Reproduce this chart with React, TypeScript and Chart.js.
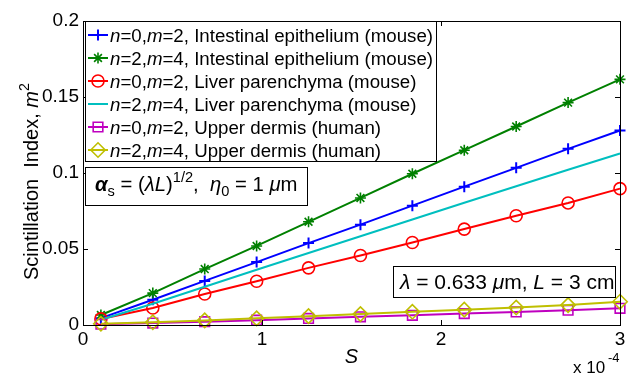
import React, { useEffect, useRef } from 'react';
import { Chart, registerables } from 'chart.js';
import { drawPoint } from 'chart.js/helpers';

Chart.register(...registerables);

// Propagation parameter S (in units of 1e-4)
const sValues = [0.1, 0.39, 0.68, 0.97, 1.26, 1.55, 1.84, 2.13, 2.42, 2.71, 3.0];

// Scintillation index m^2 for each tissue / (n, m) combination
const intestinalN0M2 = [0.0045, 0.0166, 0.029, 0.0414, 0.0539, 0.066, 0.0785, 0.091, 0.1034, 0.1159, 0.128];
const intestinalN2M4 = [0.0066, 0.021, 0.0368, 0.052, 0.0679, 0.0836, 0.0995, 0.115, 0.1306, 0.1463, 0.1616];
const liverN0M2 = [0.004, 0.0112, 0.0204, 0.0288, 0.0376, 0.0457, 0.0543, 0.0631, 0.0719, 0.0803, 0.0897];
const liverN2M4 = [0.0035, 0.014, 0.0252, 0.0363, 0.0474, 0.0584, 0.0694, 0.0804, 0.0913, 0.1021, 0.1128];
const dermisN0M2 = [0.0005, 0.0013, 0.0022, 0.0032, 0.0043, 0.0054, 0.0064, 0.0075, 0.0086, 0.0097, 0.011];
const dermisN2M4 = [0.0008, 0.0018, 0.003, 0.0044, 0.0058, 0.0072, 0.0087, 0.0101, 0.0115, 0.0131, 0.0153];

const seriesLabels = [
  'n=0,m=2, Intestinal epithelium (mouse)',
  'n=2,m=4, Intestinal epithelium (mouse)',
  'n=0,m=2, Liver parenchyma (mouse)',
  'n=2,m=4, Liver parenchyma (mouse)',
  'n=0,m=2, Upper dermis (human)',
  'n=2,m=4, Upper dermis (human)',
];

const xTickLabels = ['0', '1', '2', '3'];
const yTickLabels = ['0', '0.05', '0.1', '0.15', '0.2'];

const FONT = "'Liberation Sans', Arial, Helvetica, sans-serif";

type Seg = { t: string; it?: boolean; b?: boolean; pos?: 'sub' | 'sup' };

function richWidth(ctx: CanvasRenderingContext2D, segs: Seg[], size: number) {
  let w = 0;
  for (const s of segs) {
    const fs = s.pos ? size * 0.72 : size;
    ctx.font = `${s.it ? 'italic ' : ''}${s.b ? 'bold ' : ''}${fs}px ${FONT}`;
    w += ctx.measureText(s.t).width;
  }
  return w;
}

function drawRich(ctx: CanvasRenderingContext2D, segs: Seg[], x: number, y: number, size: number) {
  let cx = x;
  ctx.textBaseline = 'alphabetic';
  ctx.textAlign = 'left';
  for (const s of segs) {
    const fs = s.pos ? size * 0.72 : size;
    ctx.font = `${s.it ? 'italic ' : ''}${s.b ? 'bold ' : ''}${fs}px ${FONT}`;
    const dy = s.pos === 'sub' ? size * 0.25 : s.pos === 'sup' ? -size * 0.42 : 0;
    ctx.fillText(s.t, cx, y + dy);
    cx += ctx.measureText(s.t).width;
  }
  return cx - x;
}

// "n=0,m=2, ..." with italic n and m
function labelSegs(label: string): Seg[] {
  const m = /^(n)(=\d,)(m)(=\d,.*)$/.exec(label);
  if (!m) return [{ t: label }];
  return [{ t: m[1], it: true }, { t: m[2] }, { t: m[3], it: true }, { t: m[4] }];
}

const styles = [
  { color: '#0000FF', pointStyle: 'cross', radius: 5.5, pw: 2 },
  { color: '#008000', pointStyle: 'star', radius: 5.5, pw: 1.6 },
  { color: '#FF0000', pointStyle: 'circle', radius: 6, pw: 1.6 },
  { color: '#00BFBF', pointStyle: 'circle', radius: 0, pw: 0 },
  { color: '#BF00BF', pointStyle: 'rect', radius: 6.8, pw: 1.6 },
  { color: '#BFBF00', pointStyle: 'rectRot', radius: 7.2, pw: 1.6 },
];

const seriesValues = [intestinalN0M2, intestinalN2M4, liverN0M2, liverN2M4, dermisN0M2, dermisN2M4];

const framePlugin = {
  id: 'frame',
  afterDatasetsDraw(chart: any) {
    const { ctx, chartArea: a, scales } = chart;
    ctx.save();
    ctx.strokeStyle = '#000';
    ctx.lineWidth = 1;
    ctx.strokeRect(Math.round(a.left) + 0.5, Math.round(a.top) + 0.5, Math.round(a.right - a.left), Math.round(a.bottom - a.top));
    const tl = 5;
    ctx.beginPath();
    for (let i = 0; i < xTickLabels.length; i++) {
      const px = Math.round(scales.x.getPixelForValue(Number(xTickLabels[i]))) + 0.5;
      ctx.moveTo(px, a.bottom);
      ctx.lineTo(px, a.bottom - tl);
      ctx.moveTo(px, a.top);
      ctx.lineTo(px, a.top + tl);
    }
    for (let i = 0; i < yTickLabels.length; i++) {
      const py = Math.round(scales.y.getPixelForValue(Number(yTickLabels[i]))) + 0.5;
      ctx.moveTo(a.left, py);
      ctx.lineTo(a.left + tl, py);
      ctx.moveTo(a.right, py);
      ctx.lineTo(a.right - tl, py);
    }
    ctx.stroke();
    ctx.restore();
  },
  afterDraw(chart: any) {
    const { ctx, chartArea: a } = chart;
    ctx.save();
    ctx.fillStyle = '#000';

    // y-axis title
    const ySegs: Seg[] = [{ t: 'Scintillation  Index, ' }, { t: 'm', it: true }, { t: '2', pos: 'sup' }];
    const yw = richWidth(ctx, ySegs, 20);
    ctx.save();
    ctx.translate(37.5, 181.5);
    ctx.rotate(-Math.PI / 2);
    drawRich(ctx, ySegs, -yw / 2, 0, 20);
    ctx.restore();

    // x-axis title and exponent
    const xSegs: Seg[] = [{ t: 'S', it: true }];
    const xw = richWidth(ctx, xSegs, 20);
    drawRich(ctx, xSegs, (a.left + a.right) / 2 - xw / 2, 363, 20);
    ctx.font = `17px ${FONT}`;
    ctx.fillText('x 10', 573, 373);
    ctx.font = `13px ${FONT}`;
    ctx.fillText('-4', 608, 362);

    // legend
    const lx = 85.5, ly = 21.5, lw = 351, lh = 140;
    ctx.fillStyle = '#fff';
    ctx.fillRect(lx, ly, lw, lh);
    ctx.strokeStyle = '#000';
    ctx.lineWidth = 1;
    ctx.strokeRect(lx, ly, lw, lh);
    chart.data.datasets.forEach((ds: any, i: number) => {
      const cy = 35 + i * 23;
      const st = styles[i];
      ctx.strokeStyle = ds.borderColor;
      ctx.lineWidth = 2;
      ctx.beginPath();
      ctx.moveTo(88, cy);
      ctx.lineTo(108, cy);
      ctx.stroke();
      if (st.radius > 0) {
        ctx.lineWidth = st.pw;
        ctx.fillStyle = 'rgba(0,0,0,0)';
        drawPoint(ctx, { pointStyle: st.pointStyle as any, radius: st.radius, rotation: 0, borderWidth: st.pw }, 98, cy);
      }
      ctx.fillStyle = '#000';
      drawRich(ctx, labelSegs(ds.label), 110, cy + 6.7, 18.7);
    });

    // annotation boxes
    const box = (x: number, y: number, w: number, h: number) => {
      ctx.fillStyle = '#fff';
      ctx.fillRect(x, y, w, h);
      ctx.strokeStyle = '#000';
      ctx.lineWidth = 1;
      ctx.strokeRect(x, y, w, h);
      ctx.fillStyle = '#000';
    };
    box(85.5, 167.5, 222, 38);
    drawRich(ctx, [
      { t: 'α', it: true, b: true }, { t: 's', pos: 'sub' }, { t: ' = (' }, { t: 'λ', it: true }, { t: 'L', it: true },
      { t: ')' }, { t: '1/2', pos: 'sup' }, { t: ',  ' }, { t: 'η', it: true }, { t: '0', pos: 'sub' },
      { t: ' = 1 ' }, { t: 'μ', it: true }, { t: 'm' },
    ], 95, 191, 20.3);

    box(393.5, 266.5, 222, 31);
    drawRich(ctx, [
      { t: 'λ', it: true }, { t: ' = 0.633 ' }, { t: 'μ', it: true }, { t: 'm, ' }, { t: 'L', it: true }, { t: ' = 3 cm' },
    ], 400, 288.5, 21);

    ctx.restore();
  },
};

export default function App() {
  const ref = useRef<HTMLCanvasElement | null>(null);

  useEffect(() => {
    if (!ref.current) return;
    const datasets = seriesValues.map((vals, i) => ({
      label: seriesLabels[i],
      data: sValues.map((x, j) => ({ x, y: vals[j] })),
      borderColor: styles[i].color,
      backgroundColor: 'rgba(0,0,0,0)',
      borderWidth: 2,
      pointStyle: styles[i].pointStyle as any,
      pointRadius: styles[i].radius,
      pointBorderWidth: styles[i].pw,
      pointBorderColor: styles[i].color,
      pointBackgroundColor: 'rgba(0,0,0,0)',
      pointHoverRadius: styles[i].radius,
      tension: 0,
      fill: false,
      clip: false as any,
      order: 5 - i,
    }));

    const chart = new Chart(ref.current, {
      type: 'line',
      data: { datasets },
      options: {
        animation: false,
        responsive: false,
        devicePixelRatio: 1,
        layout: { padding: { left: 0, top: 21, right: 18, bottom: 0 } },
        plugins: { legend: { display: false }, tooltip: { enabled: false } },
        scales: {
          x: {
            type: 'linear',
            min: 0,
            max: 3,
            afterFit: (s: any) => { s.height = 54; },
            afterBuildTicks: (s: any) => { s.ticks = xTickLabels.map((t) => ({ value: Number(t) })); },
            ticks: {
              callback: (_v: any, i: number) => xTickLabels[i],
              color: '#000',
              font: { family: FONT, size: 19 },
              padding: 3,
              maxRotation: 0,
            },
            grid: { display: false, drawTicks: false },
            border: { display: false },
          },
          y: {
            type: 'linear',
            min: 0,
            max: 0.2,
            afterFit: (s: any) => { s.width = 83; },
            afterBuildTicks: (s: any) => { s.ticks = yTickLabels.map((t) => ({ value: Number(t) })); },
            ticks: {
              callback: (_v: any, i: number) => yTickLabels[i],
              color: '#000',
              font: { family: FONT, size: 19 },
              padding: 4,
            },
            grid: { display: false, drawTicks: false },
            border: { display: false },
          },
        },
      },
      plugins: [framePlugin],
    });
    return () => chart.destroy();
  }, []);

  return (
    <div style={{ position: 'absolute', left: 0, top: 0, width: 638, height: 379, background: '#fff' }}>
      <canvas ref={ref} width={638} height={379} style={{ width: 638, height: 379, display: 'block' }} />
    </div>
  );
}
